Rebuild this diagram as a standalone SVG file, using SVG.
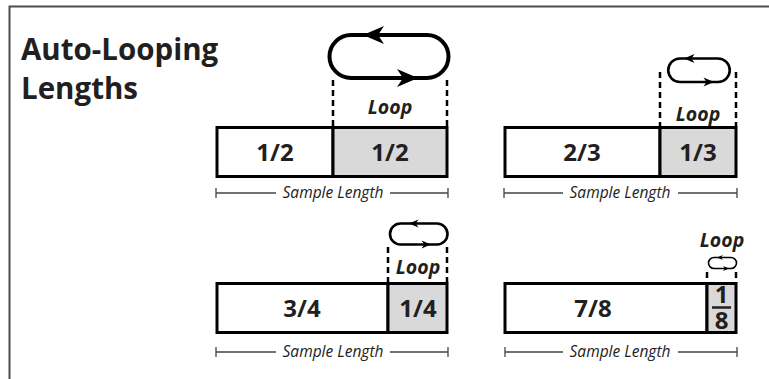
<svg xmlns="http://www.w3.org/2000/svg" xmlns:xlink="http://www.w3.org/1999/xlink" width="769" height="379" viewBox="0 0 769 379">
<style>
.frame{fill:none;stroke:#4d4d4d;stroke-width:2}
.title{font-family:"Open Sans","Noto Sans",sans-serif;font-weight:700;font-size:29.5px;fill:#231f20}
.box{stroke:#000;stroke-width:3}
.w{fill:#fff}
.g{fill:#d9d9d9}
.frac{font-family:"Open Sans","Noto Sans",sans-serif;font-weight:700;font-size:24px;fill:#231f20;text-anchor:middle}
.loopt{font-family:"Open Sans","Noto Sans",sans-serif;font-weight:700;font-style:italic;font-size:19.5px;fill:#231f20;text-anchor:middle}
.loop{fill:none;stroke:#000}
.dash{stroke:#000;stroke-width:2.5;stroke-dasharray:6 4}
.ruler{stroke:#444;stroke-width:1.3;fill:none}
.sl{font-family:"Open Sans","Noto Sans",sans-serif;font-style:italic;font-size:15.5px;fill:#222;text-anchor:middle}
.ah{fill:#000}
</style>
<defs>
<path id="ah" d="M0 0 L-21 -9 L-15 0 L-21 9 Z"/>
</defs>
<path class="frame" d="M9.5 379 V6.5 H769"/>
<g id="title">
<text class="title" x="21" y="60">Auto-Looping</text>
<text class="title" x="21" y="99">Lengths</text>
</g>
<g id="connectors">
<line class="dash" x1="333" y1="80" x2="333" y2="127"/>
<line class="dash" x1="447" y1="80" x2="447" y2="127"/>
<line class="dash" x1="660" y1="72" x2="660" y2="127"/>
<line class="dash" x1="736" y1="72" x2="736" y2="127"/>
<line class="dash" x1="388" y1="247" x2="388" y2="283"/>
<line class="dash" x1="447" y1="247" x2="447" y2="283"/>
<line class="dash" x1="707" y1="272" x2="707" y2="283" stroke-dasharray="6 0"/>
<line class="dash" x1="736" y1="272" x2="736" y2="283" stroke-dasharray="6 0"/>
<path class="ruler" d="M216 188 V198 M216 193 H276 M390 193 H448 M448 188 V198"/>
<path class="ruler" d="M504 188 V198 M504 193 H563 M678 193 H737 M737 188 V198"/>
<path class="ruler" d="M216 347 V357 M216 352 H276 M390 352 H448 M448 347 V357"/>
<path class="ruler" d="M505 347 V357 M505 352 H563 M678 352 H737 M737 347 V357"/>
</g>
<g id="bar-half">
<rect class="box w" x="217" y="127.5" width="116" height="49"/>
<rect class="box g" x="333" y="127.5" width="114" height="49"/>
<text class="frac" x="275" y="160.5">1/2</text>
<text class="frac" x="390" y="160.5">1/2</text>
<text class="loopt" x="390" y="114">Loop</text>
<path class="loop" stroke-width="4" d="M351 35 H427 A21.5 21.5 0 0 1 427 78 H351 A21.5 21.5 0 0 1 351 35 Z"/>
<use xlink:href="#ah" class="ah" transform="translate(363,35) rotate(180)"/>
<use xlink:href="#ah" class="ah" transform="translate(418,78)"/>
<text class="sl" x="333" y="198">Sample Length</text>
</g>
<g id="bar-third">
<rect class="box w" x="505" y="127.5" width="155" height="49"/>
<rect class="box g" x="660" y="127.5" width="76" height="49"/>
<text class="frac" x="582" y="160.5">2/3</text>
<text class="frac" x="698" y="160.5">1/3</text>
<text class="loopt" x="698" y="121">Loop</text>
<path class="loop" stroke-width="2.6" d="M680 58.5 H718 A11.75 11.75 0 0 1 718 82 H680 A11.75 11.75 0 0 1 680 58.5 Z"/>
<use xlink:href="#ah" class="ah" transform="translate(684,58.5) rotate(180) scale(0.5)"/>
<use xlink:href="#ah" class="ah" transform="translate(714,82) scale(0.5)"/>
<text class="sl" x="620" y="198">Sample Length</text>
</g>
<g id="bar-quarter">
<rect class="box w" x="217" y="283.5" width="171" height="49"/>
<rect class="box g" x="388" y="283.5" width="59" height="49"/>
<text class="frac" x="302" y="316.5">3/4</text>
<text class="frac" x="418" y="316.5">1/4</text>
<text class="loopt" x="418" y="274">Loop</text>
<path class="loop" stroke-width="2.6" d="M400.5 223.5 H437 A10.5 10.5 0 0 1 437 244.5 H400.5 A10.5 10.5 0 0 1 400.5 223.5 Z"/>
<use xlink:href="#ah" class="ah" transform="translate(409,223.5) rotate(180) scale(0.45)"/>
<use xlink:href="#ah" class="ah" transform="translate(431,244.5) scale(0.45)"/>
<text class="sl" x="333" y="357">Sample Length</text>
</g>
<g id="bar-eighth">
<rect class="box w" x="505" y="283.5" width="202" height="49"/>
<rect class="box g" x="707" y="283.5" width="29" height="49"/>
<text class="frac" x="593" y="316.5">7/8</text>
<text class="frac" font-size="16"><tspan x="721.5" y="302.5">1</tspan><tspan x="721.5" y="328.5">8</tspan></text>
<line x1="712" y1="307.5" x2="731" y2="307.5" stroke="#231f20" stroke-width="2.5"/>
<text class="loopt" x="722" y="247">Loop</text>
<path class="loop" stroke-width="1.6" d="M714 257.5 H731 A5.5 5.5 0 0 1 731 268.5 H714 A5.5 5.5 0 0 1 714 257.5 Z"/>
<use xlink:href="#ah" class="ah" transform="translate(717,257.5) rotate(180) scale(0.28)"/>
<use xlink:href="#ah" class="ah" transform="translate(729,268.5) scale(0.28)"/>
<text class="sl" x="620" y="357">Sample Length</text>
</g>
</svg>
